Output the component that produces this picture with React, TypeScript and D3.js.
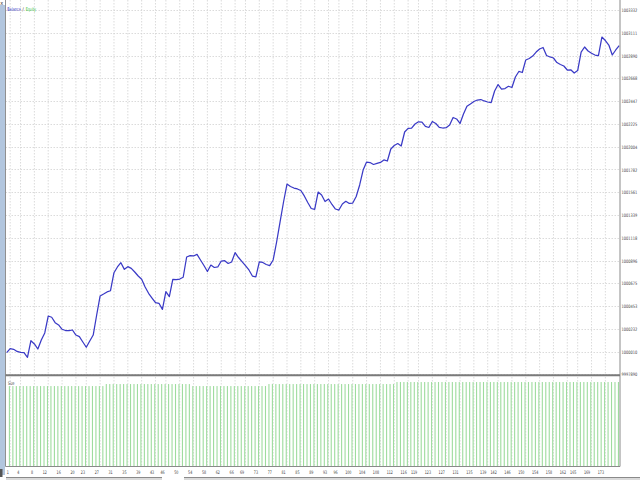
import React from 'react';
import * as d3 from 'd3';

// Balance after each trade (index 0 = initial deposit)
const balance: number[] = [
  1000000, 1000038, 1000032, 1000011, 1000003, 999999, 999954, 1000116, 1000084, 1000035,
  1000123, 1000191, 1000356, 1000344, 1000291, 1000269, 1000227, 1000215, 1000213, 1000220,
  1000171, 1000155, 1000103, 1000052, 1000113, 1000171, 1000366, 1000551, 1000570, 1000590,
  1000602, 1000777, 1000833, 1000875, 1000810, 1000836, 1000820, 1000784, 1000745, 1000713,
  1000638, 1000577, 1000531, 1000486, 1000480, 1000421, 1000593, 1000544, 1000713, 1000710,
  1000716, 1000733, 1000930, 1000943, 1000940, 1000956, 1000901, 1000847, 1000789, 1000852,
  1000828, 1000833, 1000891, 1000894, 1000867, 1000882, 1000972, 1000925, 1000886, 1000847,
  1000804, 1000745, 1000736, 1000882, 1000877, 1000857, 1000846, 1000901, 1001076, 1001271,
  1001465, 1001640, 1001616, 1001601, 1001592, 1001577, 1001524, 1001460, 1001402, 1001394,
  1001562, 1001533, 1001470, 1001494, 1001441, 1001397, 1001387, 1001446, 1001472, 1001451,
  1001455, 1001519, 1001631, 1001776, 1001854, 1001849, 1001830, 1001840, 1001850, 1001874,
  1001864, 1001981, 1002015, 1002034, 1002010, 1002146, 1002182, 1002184, 1002224, 1002245,
  1002243, 1002200, 1002190, 1002248, 1002229, 1002191, 1002185, 1002188, 1002214, 1002287,
  1002273, 1002229, 1002321, 1002397, 1002419, 1002443, 1002457, 1002462, 1002448, 1002438,
  1002433, 1002545, 1002608, 1002564, 1002569, 1002591, 1002579, 1002681, 1002735, 1002725,
  1002847, 1002861, 1002885, 1002924, 1002954, 1002968, 1002890, 1002876, 1002866, 1002822,
  1002803, 1002788, 1002749, 1002751, 1002720, 1002744, 1002924, 1002973, 1002934, 1002912,
  1002895, 1002890, 1003070, 1003036, 1002992, 1002895, 1002944, 1002986,
];

// Lot size of trades 1..177
const sizes: number[] = [
  4.0, 4.0, 4.0, 4.0, 4.0, 4.0, 4.0, 4.0, 4.0, 4.0,
  4.0, 4.0, 4.0, 4.0, 4.0, 4.0, 4.0, 4.0, 4.0, 4.0,
  4.0, 4.0, 4.0, 4.0, 4.0, 4.0, 4.0, 4.0, 4.1, 4.1,
  4.1, 4.1, 4.1, 4.1, 4.1, 4.1, 4.1, 4.1, 4.1, 4.1,
  4.1, 4.1, 4.1, 4.1, 4.1, 4.1, 4.1, 4.1, 4.1, 4.1,
  4.1, 4.1, 4.1, 4.0, 4.0, 4.0, 4.0, 4.0, 4.0, 4.0,
  4.0, 4.0, 4.0, 4.0, 4.0, 4.0, 4.0, 4.0, 4.0, 4.0,
  4.0, 4.0, 4.0, 4.0, 4.0, 4.1, 4.1, 4.1, 4.1, 4.1,
  4.1, 4.1, 4.1, 4.1, 4.1, 4.1, 4.1, 4.1, 4.1, 4.1,
  4.1, 4.1, 4.1, 4.1, 4.1, 4.1, 4.1, 4.1, 4.1, 4.1,
  4.1, 4.1, 4.1, 4.1, 4.1, 4.1, 4.1, 4.1, 4.1, 4.1,
  4.1, 4.1, 4.2, 4.2, 4.2, 4.2, 4.2, 4.2, 4.2, 4.2,
  4.2, 4.2, 4.2, 4.2, 4.2, 4.2, 4.2, 4.2, 4.2, 4.2,
  4.2, 4.2, 4.2, 4.2, 4.2, 4.2, 4.2, 4.2, 4.2, 4.2,
  4.2, 4.2, 4.2, 4.2, 4.2, 4.2, 4.2, 4.2, 4.2, 4.2,
  4.2, 4.2, 4.2, 4.2, 4.2, 4.2, 4.2, 4.2, 4.2, 4.2,
  4.2, 4.2, 4.2, 4.2, 4.2, 4.2, 4.2, 4.2, 4.2, 4.2,
  4.2, 4.2, 4.2, 4.2, 4.2, 4.2, 4.2,
];

const yTickValues: number[] = [
  999789, 1000010, 1000232, 1000453, 1000675, 1000896, 1001118, 1001339, 1001561,
  1001782, 1002004, 1002225, 1002447, 1002668, 1002890, 1003111, 1003332,
];
const yTickLabels: string[] = [
  '9997890', '1000010', '1000232', '1000453', '1000675', '1000896', '1001118', '1001339', '1001561',
  '1001782', '1002004', '1002225', '1002447', '1002668', '1002890', '1003111', '1003332',
];
const xTickValues: number[] = [
  1, 4, 8, 12, 16, 20, 23, 27, 31, 35, 39, 43, 46, 50, 54, 58, 62, 66, 69, 73, 77, 81, 85,
  89, 93, 96, 100, 104, 108, 112, 116, 119, 123, 127, 131, 135, 139, 142, 146, 150, 154,
  158, 162, 165, 169, 173,
];

const FONT = "'Liberation Sans Narrow', 'DejaVu Sans Condensed', 'Liberation Sans', sans-serif";

export default function App() {
  const W = 640;
  const H = 480;
  const left = 5.5;
  const right = 620;
  const mainBottom = 375.3;
  const subTop = 377;
  const subBottom = 466.5;

  const x = d3.scaleLinear().domain([0, balance.length - 1]).range([6.7, 619.2]);
  const y = d3.scaleLinear().domain([999789, 1003332]).range([374.3, 10.1]);
  const ys = d3.scaleLinear().domain([0, 4.45]).range([subBottom, subTop]);

  const line = d3
    .line<number>()
    .x((_, i) => x(i))
    .y((d) => y(d));

  return (
    <svg
      width={W}
      height={H}
      viewBox={`0 0 ${W} ${H}`}
      style={{ position: 'absolute', left: 0, top: 0, background: '#ffffff' }}
      fontFamily={FONT}
    >
      <rect x={0} y={0} width={W} height={H} fill="#ffffff" />
      {/* left strip */}
      <rect x={0} y={5} width={5} height={470} fill="#b2c6de" />
      <text x={0.3} y={4.5} fontSize={5.5} fill="#333">x</text>

      {/* horizontal grid */}
      {yTickValues.map((v, i) => (
        <line
          key={'hg' + i}
          x1={left}
          x2={right}
          y1={Math.round(y(v)) + 0.5}
          y2={Math.round(y(v)) + 0.5}
          stroke="#d2d2d2"
          strokeWidth={0.8}
          strokeDasharray="1.5,1.5"
        />
      ))}
      {/* vertical grid */}
      {xTickValues.map((t, i) => (
        <g key={'vg' + i}>
          <line
            x1={x(t)}
            x2={x(t)}
            y1={0}
            y2={mainBottom - 1}
            stroke="#d2d2d2"
            strokeWidth={0.8}
            strokeDasharray="1.5,1.5"
          />
          <line
            x1={x(t)}
            x2={x(t)}
            y1={subTop}
            y2={subBottom}
            stroke="#d2d2d2"
            strokeWidth={0.8}
            strokeDasharray="1.5,1.5"
          />
        </g>
      ))}

      {/* size bars */}
      {sizes.map((s, i) => (
        <rect
          key={'b' + i}
          x={x(i + 1) - 1.3}
          y={ys(s)}
          width={1.1}
          height={subBottom - ys(s)}
          fill="#9edc9e"
        />
      ))}

      {/* balance line */}
      <path d={line(balance) || ''} fill="none" stroke="#3a3ac6" strokeWidth={1.25} strokeLinejoin="round" />

      {/* borders */}
      <line x1={left} x2={left} y1={0} y2={subBottom} stroke="#909090" strokeWidth={1} />
      <line x1={right} x2={right} y1={0} y2={subBottom} stroke="#8a8a8a" strokeWidth={1} />
      <line x1={left} x2={right} y1={mainBottom} y2={mainBottom} stroke="#7a7a7a" strokeWidth={2} />
      <line x1={left} x2={right} y1={subBottom} y2={subBottom} stroke="#8a8a8a" strokeWidth={1} />

      {/* legend */}
      <text x={7.3} y={11.4} fontSize={5} textLength={13.5} lengthAdjust="spacingAndGlyphs" fill="#3030c0">Balance</text>
      <text x={22.3} y={11.4} fontSize={5} fill="#444">/</text>
      <text x={25.7} y={11.4} fontSize={5} textLength={10.3} lengthAdjust="spacingAndGlyphs" fill="#30c030">Equity</text>
      <text x={8} y={385} fontSize={4.8} textLength={6.5} lengthAdjust="spacingAndGlyphs" fill="#444">Size</text>

      {/* right axis labels */}
      {yTickValues.map((v, i) => (
        <text
          key={'yl' + i}
          x={621.5}
          y={y(v) + 2.1}
          fontSize={4.6}
          textLength={15.8}
          lengthAdjust="spacingAndGlyphs"
          fill="#444"
        >
          {yTickLabels[i]}
        </text>
      ))}

      {/* bottom axis labels */}
      {xTickValues.map((t, i) => {
        const s = String(t);
        return (
          <text
            key={'xl' + i}
            x={x(t) - 1.3}
            y={474}
            fontSize={4.8}
            textAnchor="end"
            textLength={s.length * 2.1}
            lengthAdjust="spacingAndGlyphs"
            fill="#444"
          >
            {s}
          </text>
        );
      })}

      {/* bottom scroll bar */}
      <rect x={6} y={477} width={156} height={3} fill="#dadada" />
      <line x1={6} x2={162} y1={477.5} y2={477.5} stroke="#8a8a8a" strokeWidth={1} />
      <rect x={184} y={477} width={456} height={3} fill="#dadada" />
      <line x1={184} x2={640} y1={477.5} y2={477.5} stroke="#8a8a8a" strokeWidth={1} />
      <rect x={0} y={469} width={2.5} height={8} fill="#555" />
    </svg>
  );
}
